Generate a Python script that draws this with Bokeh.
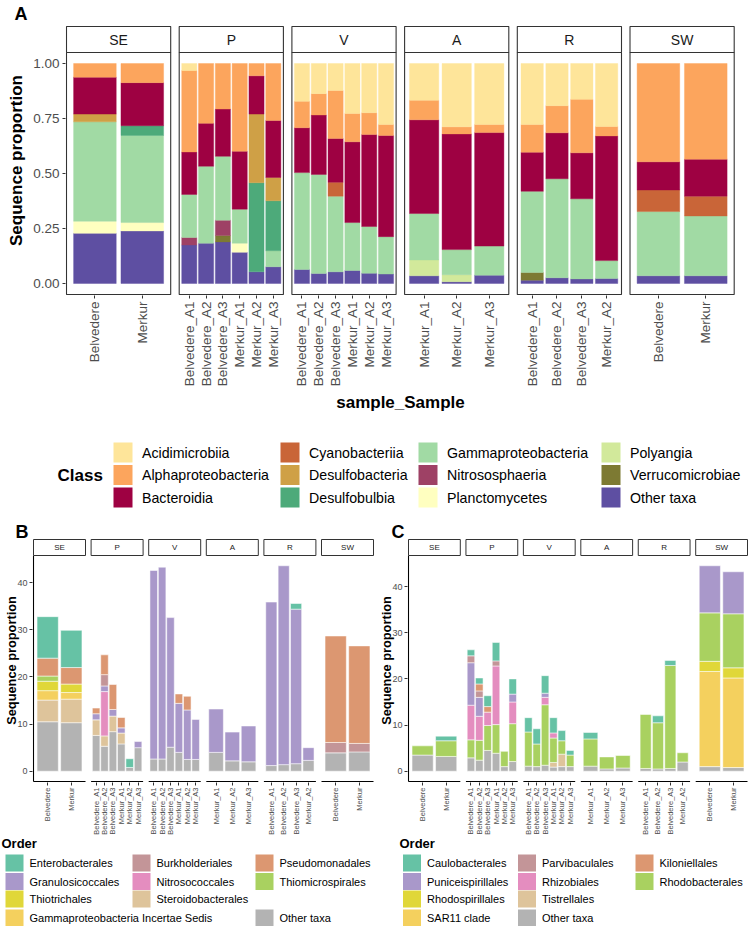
import math
from bokeh.plotting import figure
from bokeh.models import Range1d, FixedTicker, NumeralTickFormatter, ColumnDataSource
from bokeh.layouts import column, row
from bokeh.embed import file_html
from bokeh.resources import INLINE
from bokeh.core.properties import value

FONT = "Liberation Sans"
INK = "#333333"
TICK_TEXT = "#4D4D4D"

# ---------------------------------------------------------------- samples
FACETS = ["SE", "P", "V", "A", "R", "SW"]
SE_SAMPLES = ["Belvedere", "Merkur"]
P_SAMPLES = ["Belvedere_A1", "Belvedere_A2", "Belvedere_A3", "Merkur_A1", "Merkur_A2", "Merkur_A3"]
V_SAMPLES = ["Belvedere_A1", "Belvedere_A2", "Belvedere_A3", "Merkur_A1", "Merkur_A2", "Merkur_A3"]
A_SAMPLES = ["Merkur_A1", "Merkur_A2", "Merkur_A3"]
R_SAMPLES = ["Belvedere_A1", "Belvedere_A2", "Belvedere_A3", "Merkur_A2"]
SW_SAMPLES = ["Belvedere", "Merkur"]
FACET_SAMPLES = [SE_SAMPLES, P_SAMPLES, V_SAMPLES, A_SAMPLES, R_SAMPLES, SW_SAMPLES]

# ------------------------------------------- panel A: class proportions
# values follow the sample order SE | P | V | A | R | SW
CLS_OTHER = [0.228, 0.239, 0.175, 0.183, 0.189, 0.142, 0.053, 0.076, 0.064, 0.046, 0.053, 0.059,
             0.047, 0.043, 0.035, 0.008, 0.038, 0.015, 0.026, 0.021, 0.023, 0.035, 0.035]
CLS_VERRUCOMICROBIAE = [0, 0, 0, 0, 0.029, 0, 0, 0, 0, 0, 0, 0, 0, 0, 0, 0, 0, 0.035, 0, 0, 0, 0, 0]
CLS_POLYANGIA = [0, 0, 0, 0, 0, 0, 0, 0, 0, 0, 0, 0, 0, 0, 0.072, 0.032, 0, 0, 0, 0, 0, 0, 0]
CLS_PLANCTOMYCETES = [0.055, 0.038, 0, 0, 0, 0.041, 0, 0, 0, 0, 0, 0, 0, 0, 0, 0, 0, 0, 0, 0, 0, 0, 0]
CLS_NITROSOSPHAERIA = [0, 0, 0.034, 0, 0.070, 0, 0, 0, 0, 0, 0, 0, 0, 0, 0, 0, 0, 0, 0, 0, 0, 0, 0]
CLS_GAMMAPROTEOBACTERIA = [0.452, 0.396, 0.196, 0.350, 0.290, 0.155, 0, 0.073, 0.440, 0.450, 0.344, 0.218,
                           0.212, 0.170, 0.211, 0.114, 0.132, 0.369, 0.450, 0.364, 0.081, 0.292, 0.272]
CLS_DESULFOBULBIA = [0, 0.044, 0, 0, 0, 0, 0.405, 0.227, 0, 0, 0, 0, 0, 0, 0, 0, 0, 0, 0, 0, 0, 0, 0]
CLS_DESULFOBACTERIA = [0.035, 0, 0, 0, 0, 0, 0.312, 0.106, 0, 0, 0, 0, 0, 0, 0, 0, 0, 0, 0, 0, 0, 0, 0]
CLS_CYANOBACTERIIA = [0, 0, 0, 0, 0, 0, 0, 0, 0, 0, 0.063, 0, 0, 0, 0, 0, 0, 0, 0, 0, 0, 0.098, 0.090]
CLS_BACTEROIDIA = [0.168, 0.196, 0.193, 0.195, 0.215, 0.263, 0.174, 0.259, 0.204, 0.270, 0.199, 0.367,
                   0.418, 0.460, 0.426, 0.526, 0.516, 0.178, 0.209, 0.209, 0.567, 0.128, 0.168]
CLS_ALPHAPROTEOBACTERIA = [0.062, 0.087, 0.370, 0.272, 0.207, 0.399, 0.056, 0.259, 0.120, 0.097, 0.218, 0.129,
                           0.099, 0.050, 0.089, 0.032, 0.037, 0.126, 0.123, 0.243, 0.043, 0.447, 0.435]
CLS_ACIDIMICROBIIA = [0, 0, 0.032, 0, 0, 0, 0, 0, 0.172, 0.137, 0.123, 0.227, 0.224, 0.277,
                      0.167, 0.288, 0.277, 0.277, 0.192, 0.163, 0.286, 0, 0]

CLASS_COLORS = {
    "Acidimicrobiia": "#FEE59A", "Alphaproteobacteria": "#FCA55D", "Bacteroidia": "#9E0142",
    "Cyanobacteriia": "#C96538", "Desulfobacteria": "#CFA046", "Desulfobulbia": "#4DAA7A",
    "Gammaproteobacteria": "#A1DAA4", "Nitrososphaeria": "#9E4165", "Planctomycetes": "#FFFFC0",
    "Polyangia": "#D2E99B", "Verrucomicrobiae": "#7D7A33", "Other taxa": "#5E4FA2",
}
# stacking order, bottom to top
CLASS_LAYERS = [
    ("Other taxa", CLS_OTHER), ("Verrucomicrobiae", CLS_VERRUCOMICROBIAE), ("Polyangia", CLS_POLYANGIA),
    ("Planctomycetes", CLS_PLANCTOMYCETES), ("Nitrososphaeria", CLS_NITROSOSPHAERIA),
    ("Gammaproteobacteria", CLS_GAMMAPROTEOBACTERIA), ("Desulfobulbia", CLS_DESULFOBULBIA),
    ("Desulfobacteria", CLS_DESULFOBACTERIA), ("Cyanobacteriia", CLS_CYANOBACTERIIA),
    ("Bacteroidia", CLS_BACTEROIDIA), ("Alphaproteobacteria", CLS_ALPHAPROTEOBACTERIA),
    ("Acidimicrobiia", CLS_ACIDIMICROBIIA),
]
CLASS_LEGEND_COLUMNS = [
    ["Acidimicrobiia", "Alphaproteobacteria", "Bacteroidia"],
    ["Cyanobacteriia", "Desulfobacteria", "Desulfobulbia"],
    ["Gammaproteobacteria", "Nitrososphaeria", "Planctomycetes"],
    ["Polyangia", "Verrucomicrobiae", "Other taxa"],
]

# ------------------------------------- panel B: gammaproteobacterial orders
B_OTHER = [10.5, 10.3, 7.6, 5.3, 8.4, 5.8, 0.8, 5.0, 2.6, 2.6, 5.1, 4.0, 2.5, 2.5,
           4.0, 2.2, 2.0, 1.2, 1.4, 1.6, 2.3, 3.9, 4.1]
B_STEROIDOBACTERALES = [4.6, 5.0, 3.3, 2.2, 3.3, 2.3, 0, 0, 0, 0, 0, 0, 0, 0, 0, 0, 0, 0, 0, 0, 0, 0, 0]
B_GAMMA_INCERTAE_SEDIS = [2.0, 1.4, 0, 0, 0, 0, 0, 0, 0, 0, 0, 0, 0, 0, 0, 0, 0, 0, 0, 0, 0, 0, 0]
B_THIOTRICHALES = [2.0, 1.8, 0, 0, 0, 0, 0, 0, 0, 0, 0, 0, 0, 0, 0, 0, 0, 0, 0, 0, 0, 0, 0]
B_THIOMICROSPIRALES = [1.1, 0, 0, 0, 0, 0, 0, 0, 0, 0, 0, 0, 0, 0, 0, 0, 0, 0, 0, 0, 0, 0, 0]
B_NITROSOCOCCALES = [0, 0, 0, 9.4, 0, 0, 0, 0, 0, 0, 0, 0, 0, 0, 0, 0, 0, 0, 0, 0, 0, 0, 0]
B_GRANULOSICOCCALES = [0, 0, 1.3, 1.2, 1.4, 1.1, 0, 1.3, 40.0, 40.7, 27.5, 10.4, 10.5, 8.5,
                       9.2, 6.1, 7.6, 34.7, 42.2, 32.8, 2.7, 0, 0]
B_BURKHOLDERIALES = [0, 0, 0, 2.4, 0, 0, 0, 0, 0, 0, 0, 0, 0, 0, 0, 0, 0, 0, 0, 0, 0, 2.2, 1.8]
B_PSEUDOMONADALES = [3.8, 3.5, 1.2, 4.2, 5.3, 2.2, 0, 0, 0, 0, 0, 2.0, 2.9, 0,
                     0, 0, 0, 0, 0, 0, 0, 22.6, 20.7]
B_ENTEROBACTERALES = [8.8, 7.9, 0, 0, 0, 0, 1.85, 0, 0, 0, 0, 0, 0, 0, 0, 0, 0, 0, 0, 1.2, 0, 0, 0]

GAMMA_ORDER_COLORS = {
    "Enterobacterales": "#66C2A5", "Granulosicoccales": "#A998CA", "Thiotrichales": "#E0D739",
    "Gammaproteobacteria Incertae Sedis": "#F4D05E", "Burkholderiales": "#C39598",
    "Nitrosococcales": "#E48DBF", "Steroidobacterales": "#DEC49B", "Pseudomonadales": "#DC9771",
    "Thiomicrospirales": "#A9D160", "Other taxa": "#B3B3B3",
}
GAMMA_LAYERS = [
    ("Other taxa", B_OTHER), ("Steroidobacterales", B_STEROIDOBACTERALES),
    ("Gammaproteobacteria Incertae Sedis", B_GAMMA_INCERTAE_SEDIS), ("Thiotrichales", B_THIOTRICHALES),
    ("Thiomicrospirales", B_THIOMICROSPIRALES), ("Nitrosococcales", B_NITROSOCOCCALES),
    ("Granulosicoccales", B_GRANULOSICOCCALES), ("Burkholderiales", B_BURKHOLDERIALES),
    ("Pseudomonadales", B_PSEUDOMONADALES), ("Enterobacterales", B_ENTEROBACTERALES),
]
# legend grid: (label, column, row)
GAMMA_LEGEND_CELLS = [
    ("Enterobacterales", 0, 0), ("Granulosicoccales", 0, 1), ("Thiotrichales", 0, 2),
    ("Gammaproteobacteria Incertae Sedis", 0, 3), ("Burkholderiales", 1, 0), ("Nitrosococcales", 1, 1),
    ("Steroidobacterales", 1, 2), ("Pseudomonadales", 2, 0), ("Thiomicrospirales", 2, 1),
    ("Other taxa", 2, 3),
]

# ------------------------------------- panel C: alphaproteobacterial orders
C_OTHER = [3.5, 3.2, 2.9, 2.4, 4.5, 3.9, 1.0, 2.1, 1.1, 1.0, 1.3, 0.9, 1.0, 1.0,
           1.1, 0.5, 0.7, 0.6, 0.5, 0.6, 2.0, 1.0, 0.8]
C_TISTRELLALES = [0, 0, 0, 0, 0, 0, 0, 0, 0, 0, 0, 1.0, 2.7, 0, 0, 0, 0, 0, 0, 0, 0, 0, 0]
C_SAR11 = [0, 0, 0, 0, 0, 0, 0, 0, 0, 0, 0, 0, 0, 0, 0, 0, 0, 0, 0, 0, 0, 20.6, 19.4]
C_RHODOSPIRILLALES = [0, 0, 0, 0, 0, 0, 0, 0, 0, 0, 0, 0, 0, 0, 0, 0, 0, 0, 0, 0, 0, 2.2, 2.2]
C_RHODOBACTERALES = [2.0, 3.4, 3.9, 4.3, 5.4, 6.2, 3.3, 8.2, 7.4, 4.9, 13.1, 5.3, 2.9, 2.5,
                     5.9, 2.6, 2.7, 11.7, 10.0, 22.3, 2.0, 10.5, 11.7]
C_RHIZOBIALES = [0, 0, 7.5, 5.2, 2.9, 12.7, 0, 4.7, 0, 0, 1.6, 1.1, 0, 0, 0, 0, 0, 0, 0, 0, 0, 0, 0]
C_PUNICEISPIRILLALES = [0, 0, 9.2, 4.1, 0, 0, 0, 1.7, 0, 0, 0.9, 0, 0, 0, 0, 0, 0, 0, 0, 0, 0, 10.2, 9.1]
C_PARVIBACULALES = [0, 0, 1.5, 1.4, 0, 1.1, 0, 0, 0, 0, 0, 0, 0, 0, 0, 0, 0, 0, 0, 0, 0, 0, 0]
C_KILONIELLALES = [0, 0, 0, 1.5, 1.2, 0, 0, 0, 0, 0, 0, 0, 0, 0, 0, 0, 0, 0, 0, 0, 0, 0, 0]
C_CAULOBACTERALES = [0, 1.0, 1.3, 1.3, 2.35, 4.0, 0, 3.3, 3.1, 3.3, 3.8, 3.3, 2.2, 1.0,
                     1.4, 0, 0, 0, 1.5, 1.1, 0, 0, 0]

ALPHA_ORDER_COLORS = {
    "Caulobacterales": "#66C2A5", "Puniceispirillales": "#A998CA", "Rhodospirillales": "#E0D739",
    "SAR11 clade": "#F4D05E", "Parvibaculales": "#C39598", "Rhizobiales": "#E48DBF",
    "Tistrellales": "#DEC49B", "Other taxa": "#B3B3B3", "Kiloniellales": "#DC9771",
    "Rhodobacterales": "#A9D160",
}
ALPHA_LAYERS = [
    ("Other taxa", C_OTHER), ("Tistrellales", C_TISTRELLALES), ("SAR11 clade", C_SAR11),
    ("Rhodospirillales", C_RHODOSPIRILLALES), ("Rhodobacterales", C_RHODOBACTERALES),
    ("Rhizobiales", C_RHIZOBIALES), ("Puniceispirillales", C_PUNICEISPIRILLALES),
    ("Parvibaculales", C_PARVIBACULALES), ("Kiloniellales", C_KILONIELLALES),
    ("Caulobacterales", C_CAULOBACTERALES),
]
ALPHA_LEGEND_CELLS = [
    ("Caulobacterales", 0, 0), ("Puniceispirillales", 0, 1), ("Rhodospirillales", 0, 2),
    ("SAR11 clade", 0, 3), ("Parvibaculales", 1, 0), ("Rhizobiales", 1, 1), ("Tistrellales", 1, 2),
    ("Other taxa", 1, 3), ("Kiloniellales", 2, 0), ("Rhodobacterales", 2, 1),
]


def sample_positions(panel_w, gap):
    """Centre and width of every bar; each facet has its own discrete scale
    (n categories plus 0.6 of padding on either side)."""
    centers, widths, labels = [], [], []
    for i, samples in enumerate(FACET_SAMPLES):
        left = i * (panel_w + gap)
        unit = panel_w / (len(samples) - 1 + 1.2)
        for j, name in enumerate(samples):
            centers.append(round(left + (0.6 + j) * unit, 3))
            widths.append(0.9 * unit)
            labels.append(name)
    return centers, widths, labels


def facet_figure(layers, colors, *, panel_w, gap, strip_h, panel_h, lo, hi, margins,
                 yticks, yfmt, ytick_px, xtick_px, strip_px, ytitle, ytitle_px, ytitle_standoff,
                 label_standoff, xtitle=None, xtitle_px=16, xtitle_standoff=0,
                 boxed=True, seam=None, strip_lw=1.1):
    left_m, right_m, top_m, bottom_m = margins
    step = panel_w + gap
    fw = int(round(6 * panel_w + 5 * gap + 2))
    fh = int(round(strip_h + panel_h + 2))
    k = panel_h / (hi - lo)
    p = figure(frame_width=fw, frame_height=fh,
               x_range=Range1d(-1, fw - 1),
               y_range=Range1d(lo - 1.0 / k, hi + (strip_h + 1.0) / k),
               min_border_left=left_m, min_border_right=right_m,
               min_border_top=top_m, min_border_bottom=bottom_m,
               output_backend="svg", toolbar_location=None)
    p.outline_line_color = None
    p.xgrid.visible = False
    p.ygrid.visible = False

    centers, widths, labels = sample_positions(panel_w, gap)
    base = [0.0] * len(centers)
    for name, vals in layers:
        idx = [i for i, v in enumerate(vals) if v > 0]
        src = ColumnDataSource(dict(
            x=[centers[i] for i in idx], w=[widths[i] for i in idx],
            bottom=[base[i] for i in idx], top=[base[i] + vals[i] for i in idx]))
        if seam is None:
            p.vbar(x="x", width="w", bottom="bottom", top="top", source=src,
                   fill_color=colors[name], line_color=colors[name], line_width=0.4)
        else:
            p.vbar(x="x", width="w", bottom="bottom", top="top", source=src,
                   fill_color=colors[name], line_color=seam, line_width=0.7, line_alpha=0.75)
        base = [b + v for b, v in zip(base, vals)]

    lefts = [i * step for i in range(6)]
    rights = [l + panel_w for l in lefts]
    s_top = hi + strip_h / k
    if boxed:
        p.quad(left=lefts, right=rights, bottom=lo, top=hi, fill_color=None,
               line_color=INK, line_width=1.1)
    else:
        p.segment(x0=lefts, x1=rights, y0=[lo] * 6, y1=[lo] * 6, line_color="black", line_width=1.1)
        p.segment(x0=[0], x1=[0], y0=[lo], y1=[hi], line_color="black", line_width=1.1)
    p.quad(left=lefts, right=rights, bottom=hi, top=s_top, fill_color="white",
           line_color=INK, line_width=strip_lw)
    p.text(x=[(l + r) / 2 for l, r in zip(lefts, rights)], y=[(hi + s_top) / 2] * 6, text=FACETS,
           text_font=value(FONT), text_font_size=value(f"{strip_px}px"), text_align="center",
           text_baseline="middle", text_color="#1A1A1A")

    xa = p.xaxis[0]
    xa.ticker = FixedTicker(ticks=centers)
    xa.major_label_overrides = {c: s for c, s in zip(centers, labels)}
    xa.major_label_orientation = math.pi / 2
    ya = p.yaxis[0]
    ya.ticker = FixedTicker(ticks=yticks)
    ya.formatter = NumeralTickFormatter(format=yfmt)
    ya.bounds = (lo, hi)          # keep the axis title centred on the panels, not the strips
    for ax, px in ((xa, xtick_px), (ya, ytick_px)):
        ax.axis_line_color = None
        ax.major_tick_line_color = INK
        ax.major_tick_out = 3
        ax.major_tick_in = 0
        ax.minor_tick_line_color = None
        ax.major_label_text_font = FONT
        ax.major_label_text_font_size = f"{px}px"
        ax.major_label_text_color = TICK_TEXT
        ax.major_label_standoff = label_standoff
    ya.axis_label = ytitle
    ya.axis_label_text_font = FONT
    ya.axis_label_text_font_style = "bold"
    ya.axis_label_text_font_size = f"{ytitle_px}px"
    ya.axis_label_text_color = "black"
    ya.axis_label_standoff = ytitle_standoff
    if xtitle:
        xa.axis_label = xtitle
        xa.axis_label_text_font = FONT
        xa.axis_label_text_font_style = "bold"
        xa.axis_label_text_font_size = f"{xtitle_px}px"
        xa.axis_label_text_color = "black"
        xa.axis_label_standoff = xtitle_standoff
    return p


def tag(p, text, offset, standoff):
    """Panel letter, drawn as the figure title at the top-left corner."""
    p.title.text = text
    p.title.align = "left"
    p.title.offset = offset
    p.title.standoff = standoff
    p.title.vertical_align = "bottom"
    p.title.text_font = FONT
    p.title.text_font_size = "18px"
    p.title.text_font_style = "bold"
    p.title.text_color = "black"


def legend_figure(w, h, title, title_x, title_y, title_px, cells, colors,
                  col_x, row_y, sw, sh, text_dx, label_px):
    p = figure(width=w, height=h, x_range=Range1d(0, w), y_range=Range1d(h, 0),
               min_border=0, x_axis_location=None, y_axis_location=None,
               output_backend="svg", toolbar_location=None)
    p.outline_line_color = None
    p.grid.visible = False
    xs = [col_x[c] for _, c, _ in cells]
    ys = [row_y[r] for _, _, r in cells]
    p.quad(left=xs, right=[x + sw for x in xs], top=[y - sh / 2 for y in ys],
           bottom=[y + sh / 2 for y in ys], fill_color=[colors[n] for n, _, _ in cells],
           line_color=None)
    p.text(x=[x + text_dx for x in xs], y=ys, text=[n for n, _, _ in cells],
           text_font=value(FONT), text_font_size=value(f"{label_px}px"),
           text_baseline="middle", text_align="left", text_color="black")
    p.text(x=[title_x], y=[title_y], text=[title], text_font=value(FONT),
           text_font_size=value(f"{title_px}px"), text_font_style="bold",
           text_baseline="middle", text_align="left", text_color="black")
    return p


# ------------------------------------------------------------- panel A
fig_a = facet_figure(CLASS_LAYERS, CLASS_COLORS, panel_w=104.2, gap=8.5, strip_h=26, panel_h=242,
                     lo=-0.05, hi=1.05, margins=(65, 13, 24, 121),
                     yticks=[0, 0.25, 0.5, 0.75, 1.0], yfmt="0.00", ytick_px=13.5, xtick_px=13.5,
                     strip_px=14, ytitle="Sequence proportion", ytitle_px=17, ytitle_standoff=4,
                     label_standoff=3, xtitle="sample_Sample", xtitle_px=17, xtitle_standoff=4)
tag(fig_a, "A", -51, 3)

class_cells = [(name, c, r) for c, names in enumerate(CLASS_LEGEND_COLUMNS) for r, name in enumerate(names)]
leg_a = legend_figure(748, 100, "Class", 57, 58.5, 17, class_cells, CLASS_COLORS,
                      col_x=[113, 280, 418, 601], row_y=[36, 58.5, 81], sw=19, sh=20,
                      text_dx=28.5, label_px=14.2)

# ------------------------------------------------------------- panels B, C
b_max = max(sum(vals[i] for _, vals in GAMMA_LAYERS) for i in range(len(B_OTHER)))
c_max = max(sum(vals[i] for _, vals in ALPHA_LAYERS) for i in range(len(C_OTHER)))

fig_b = facet_figure(GAMMA_LAYERS, GAMMA_ORDER_COLORS, panel_w=52, gap=5.6, strip_h=16, panel_h=226,
                     lo=-0.05 * b_max, hi=1.05 * b_max, margins=(32, 0, 22, 55),
                     yticks=[0, 10, 20, 30, 40], yfmt="0", ytick_px=9, xtick_px=7.5, strip_px=8,
                     ytitle="Sequence proportion", ytitle_px=12.8, ytitle_standoff=-5,
                     label_standoff=2, boxed=False, seam="white", strip_lw=1.0)
tag(fig_b, "B", -17, -7)

fig_c = facet_figure(ALPHA_LAYERS, ALPHA_ORDER_COLORS, panel_w=51.8, gap=5.64, strip_h=16, panel_h=226,
                     lo=-0.05 * c_max, hi=1.05 * c_max, margins=(33, 0, 22, 55),
                     yticks=[0, 10, 20, 30, 40], yfmt="0", ytick_px=9, xtick_px=7.5, strip_px=8,
                     ytitle="Sequence proportion", ytitle_px=12.8, ytitle_standoff=-5,
                     label_standoff=2, boxed=False, seam="white", strip_lw=1.0)
tag(fig_c, "C", -16, -7)

leg_b = legend_figure(374, 90, "Order", 1, 6, 13, GAMMA_LEGEND_CELLS, GAMMA_ORDER_COLORS,
                      col_x=[5, 132, 255], row_y=[25.5, 44, 61.5, 80.5], sw=18, sh=17,
                      text_dx=24, label_px=11)
leg_c = legend_figure(374, 90, "Order", 25, 6, 13, ALPHA_LEGEND_CELLS, ALPHA_ORDER_COLORS,
                      col_x=[28.5, 143.5, 261], row_y=[25.5, 44, 61.5, 80.5], sw=18, sh=17,
                      text_dx=24, label_px=11)

page = column(row(fig_a), row(leg_a), row(fig_b, fig_c), row(leg_b, leg_c))

with open("out.html", "w") as fh:
    fh.write(file_html(page, INLINE))
